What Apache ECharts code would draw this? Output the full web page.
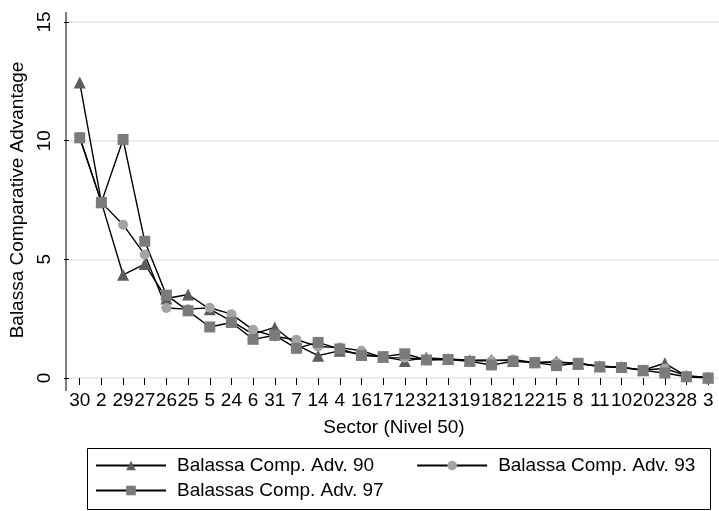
<!DOCTYPE html>
<html>
<head>
<meta charset="utf-8">
<script src="https://cdn.jsdelivr.net/npm/echarts@6/dist/echarts.min.js"></script>
<style>
html,body{margin:0;padding:0;background:#fff;}
#chart{width:719px;height:511px;}
</style>
</head>
<body>
<div id="chart"></div>
<script>
const sectors = ['30','2','29','27','26','25','5','24','6','31','7','14','4','16','17','12','32','13','19','18','21','22','15','8','11','10','20','23','28','3'];
const adv90 = [12.45,7.4,4.35,4.8,3.35,3.52,2.9,2.4,1.85,2.13,1.4,0.94,1.15,1.0,0.9,0.72,0.85,0.8,0.75,0.76,0.72,0.66,0.69,0.6,0.5,0.46,0.33,0.62,0.08,0.02];
const adv93 = [10.15,7.4,6.46,5.2,2.95,2.9,2.96,2.69,2.03,1.75,1.61,1.33,1.28,1.15,0.86,0.85,0.78,0.8,0.72,0.72,0.78,0.65,0.65,0.62,0.5,0.45,0.34,0.4,0.1,0.02];
const adv97 = [10.12,7.4,10.05,5.76,3.49,2.83,2.15,2.34,1.63,1.8,1.25,1.5,1.22,0.95,0.9,1.02,0.76,0.78,0.7,0.55,0.7,0.65,0.52,0.62,0.47,0.44,0.32,0.21,0.05,0.0];
const yTicks = {min:0, max:15, interval:5};
const names = ['Balassa Comp. Adv. 90','Balassa Comp. Adv. 93','Balassas Comp. Adv. 97'];

const FONT = 'Liberation Sans, Arial, Helvetica, sans-serif';
const FS = 19;
const chart = echarts.init(document.getElementById('chart'), null, {renderer:'canvas'});

function mk(name, data, symbol, size, color){
  return {
    name: name, type:'line', data: data,
    symbol: symbol, symbolSize: size, showAllSymbol: true,
    lineStyle:{color:'#000', width:1.4},
    itemStyle:{color:color, borderWidth:0},
    emphasis:{disabled:true},
    animation:false
  };
}
const legendText = {fontFamily:FONT, fontSize:FS, color:'#000', padding:[0,0,0,6]};

chart.setOption({
  backgroundColor:'#fff',
  animation:false,
  grid:{left:66, right:-5, top:22, bottom:133, containLabel:false},
  xAxis:{
    type:'category', data:sectors, boundaryGap:true,
    offset:10,
    name:'Sector (Nivel 50)', nameLocation:'middle', nameGap:30,
    nameTextStyle:{fontFamily:FONT, fontSize:FS, color:'#000'},
    axisLine:{show:false},
    axisTick:{show:true, alignWithLabel:true, length:7, lineStyle:{color:'#000', width:1}},
    axisLabel:{interval:0, hideOverlap:false, margin:3, fontFamily:FONT, fontSize:FS, color:'#000'},
    splitLine:{show:false}
  },
  yAxis:{
    type:'value', min:yTicks.min, max:yTicks.max, interval:yTicks.interval,
    name:'Balassa Comparative Advantage', nameLocation:'middle', nameGap:34, nameRotate:90,
    nameTextStyle:{fontFamily:FONT, fontSize:FS, color:'#000'},
    axisLine:{show:false},
    axisTick:{show:true, length:5, lineStyle:{color:'#000', width:1}},
    axisLabel:{rotate:90, margin:15, fontFamily:FONT, fontSize:FS, color:'#000'},
    splitLine:{show:true, lineStyle:{color:'#e6e6e6', width:1.5}}
  },
  legend:[
    {data:[names[0], names[1]], left:95, top:456, padding:0, itemWidth:70, itemHeight:12, itemGap:42,
     textStyle:legendText, selectedMode:false},
    {data:[names[2]], left:95, top:481, padding:0, itemWidth:70, itemHeight:12, itemGap:42,
     textStyle:legendText, selectedMode:false}
  ],
  graphic:[
    {type:'line', shape:{x1:66, y1:12, x2:66, y2:391}, style:{stroke:'#000', lineWidth:1}, z:100},
    {type:'rect', shape:{x:87.5, y:448.5, width:623, height:61}, style:{fill:null, stroke:'#000', lineWidth:1}, z:100}
  ],
  series:[
    mk(names[0], adv90, 'triangle', 12, '#5c5c5c'),
    mk(names[1], adv93, 'circle', 10, '#a3a3a3'),
    mk(names[2], adv97, 'rect', 11, '#7b7b7b')
  ]
});
</script>
</body>
</html>
